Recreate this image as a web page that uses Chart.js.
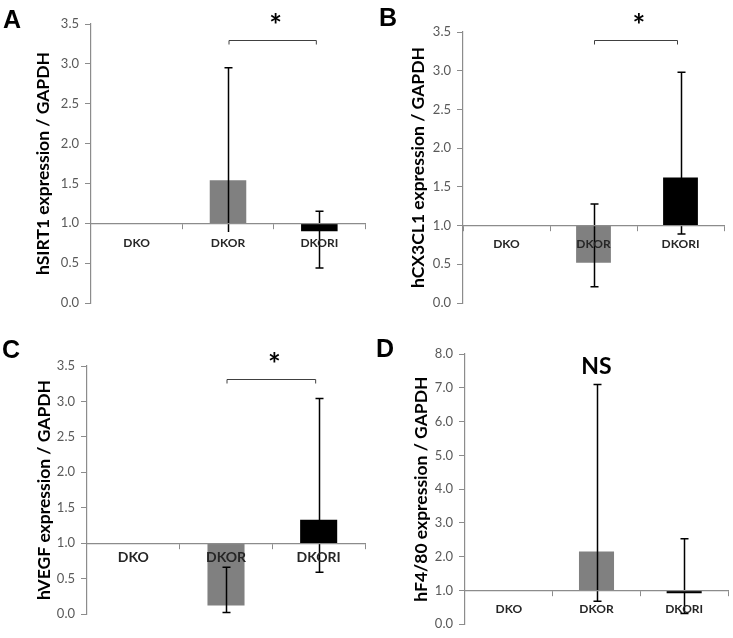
<!DOCTYPE html>
<html>
<head>
<meta charset="utf-8">
<script src="https://cdn.jsdelivr.net/npm/chart.js@4/dist/chart.umd.min.js"></script>
<style>
  html, body { margin: 0; padding: 0; background: #fff; }
  #wrap { position: relative; width: 733px; height: 638px; overflow: hidden; }
  canvas { position: absolute; }
</style>
</head>
<body>
<div id="wrap">
  <canvas id="cA" width="366" height="320" style="left:0;top:0"></canvas>
  <canvas id="cB" width="367" height="320" style="left:366px;top:0"></canvas>
  <canvas id="cC" width="366" height="318" style="left:0;top:320px"></canvas>
  <canvas id="cD" width="367" height="318" style="left:366px;top:320px"></canvas>
</div>
<script>
// ---- data ----
const categories = ['DKO', 'DKOR', 'DKORI'];
const baseline = 1.0;

const sirt1Mean    = [1.00, 1.54, 0.90];
const sirt1ErrHigh = [null, 2.95, 1.15];
const sirt1ErrLow  = [null, 0.89, 0.44];
const sirt1CapLow  = [false, false, true];

const cx3cl1Mean    = [1.00, 0.52, 1.62];
const cx3cl1ErrHigh = [null, 1.28, 2.98];
const cx3cl1ErrLow  = [null, 0.21, 0.89];
const cx3cl1CapLow  = [false, true, true];

const vegfMean    = [1.00, 0.12, 1.33];
const vegfErrHigh = [null, 0.66, 3.04];
const vegfErrLow  = [null, 0.02, 0.59];
const vegfCapLow  = [false, true, true];

const f480Mean    = [1.00, 2.15, 0.92];
const f480ErrHigh = [null, 7.10, 2.53];
const f480ErrLow  = [null, 0.68, 0.32];
const f480CapLow  = [false, true, true];

const barColors = ['#808080', '#808080', '#000000'];

const yTitles = ['hSIRT1 expression / GAPDH', 'hCX3CL1 expression / GAPDH',
                 'hVEGF expression / GAPDH', 'hF4/80 expression / GAPDH'];
const panelLetters = ['A', 'B', 'C', 'D'];
const yMax  = [3.5, 3.5, 3.5, 8.0];
const yStep = [0.5, 0.5, 0.5, 1.0];
const sigMarks   = ['*', '*', '*', 'NS'];
const bracketLevel = [3.30, 3.40, 3.32, null];
const nsLevel = 7.63;

// ---- layout (pixels, per panel) ----
const panels = [
  { id: 'cA', mean: sirt1Mean,  hi: sirt1ErrHigh,  lo: sirt1ErrLow,  capLo: sirt1CapLow,
    axisX: 91, pad: { top: 24, bottom: 17, right: 1 }, titlePad: 33, labelFont: 12, labelPad: 8,
    letter: [3, 28] },
  { id: 'cB', mean: cx3cl1Mean, hi: cx3cl1ErrHigh, lo: cx3cl1ErrLow, capLo: cx3cl1CapLow,
    axisX: 97, pad: { top: 32, bottom: 17, right: 9 }, titlePad: 42, labelFont: 12, labelPad: 6,
    letter: [13, 26] },
  { id: 'cC', mean: vegfMean,   hi: vegfErrHigh,   lo: vegfErrLow,   capLo: vegfCapLow,
    axisX: 87, pad: { top: 46, bottom: 24, right: 1 }, titlePad: 34, labelFont: 14, labelPad: 1,
    letter: [2, 38] },
  { id: 'cD', mean: f480Mean,   hi: f480ErrHigh,   lo: f480ErrLow,   capLo: f480CapLow,
    axisX: 99, pad: { top: 34, bottom: 9, right: 5 }, titlePad: 45, labelFont: 12, labelPad: 6,
    letter: [10, 37] }
];

const annotPlugin = {
  id: 'annot',
  afterDatasetsDraw(chart, args, opts) {
    const p = opts.panel;
    const ctx = chart.ctx;
    const x = chart.scales.x, y = chart.scales.y;
    ctx.save();
    ctx.strokeStyle = '#000';
    ctx.lineWidth = 1.5;
    for (let i = 0; i < categories.length; i++) {
      if (p.hi[i] == null) continue;
      const cx = Math.round(x.getPixelForValue(i)) + 0.5;
      const yh = y.getPixelForValue(p.hi[i]);
      const yl = y.getPixelForValue(p.lo[i]);
      ctx.beginPath();
      ctx.moveTo(cx, yh); ctx.lineTo(cx, yl);
      ctx.moveTo(cx - 4, yh); ctx.lineTo(cx + 4, yh);
      if (p.capLo[i]) { ctx.moveTo(cx - 4, yl); ctx.lineTo(cx + 4, yl); }
      ctx.stroke();
    }
    ctx.restore();
  },
  afterDraw(chart, args, opts) {
    const p = opts.panel, k = opts.k;
    const ctx = chart.ctx;
    const x = chart.scales.x, y = chart.scales.y;
    ctx.save();
    // panel letter
    ctx.fillStyle = '#000';
    ctx.font = 'bold 25px "Liberation Sans", Arial, sans-serif';
    ctx.textAlign = 'left';
    ctx.textBaseline = 'alphabetic';
    ctx.fillText(panelLetters[k], p.letter[0], p.letter[1]);
    if (bracketLevel[k] != null) {
      const x1 = x.getPixelForValue(1) + 1, x2 = x.getPixelForValue(2) - 3;
      const by = Math.round(y.getPixelForValue(bracketLevel[k])) + 0.5;
      ctx.strokeStyle = '#404040';
      ctx.lineWidth = 1;
      ctx.beginPath();
      ctx.moveTo(x1, by + 4); ctx.lineTo(x1, by); ctx.lineTo(x2, by); ctx.lineTo(x2, by + 4);
      ctx.stroke();
      ctx.font = 'bold 30px Lato, sans-serif';
      ctx.textAlign = 'center';
      ctx.textBaseline = 'middle';
      ctx.fillText(sigMarks[k], (x1 + x2) / 2 + 3, by - 14);
    } else {
      ctx.font = 'bold 23px Lato, sans-serif';
      ctx.textAlign = 'center';
      ctx.textBaseline = 'middle';
      ctx.fillText(sigMarks[k], x.getPixelForValue(1), y.getPixelForValue(nsLevel));
    }
    ctx.restore();
  }
};

panels.forEach((p, k) => {
  new Chart(document.getElementById(p.id), {
    type: 'bar',
    data: {
      labels: categories,
      datasets: [{
        data: p.mean.map(v => [baseline, v]),
        backgroundColor: barColors,
        borderWidth: 0,
        barPercentage: 0.4,
        categoryPercentage: 1.0,
        borderSkipped: false
      }]
    },
    options: {
      responsive: false,
      animation: false,
      devicePixelRatio: 1,
      layout: { padding: { left: 0, top: p.pad.top, bottom: p.pad.bottom, right: p.pad.right } },
      plugins: {
        legend: { display: false },
        tooltip: { enabled: false },
        annot: { panel: p, k: k }
      },
      scales: {
        x: {
          type: 'category',
          position: { y: baseline },
          offset: true,
          grid: { offset: true, drawOnChartArea: false, drawTicks: true, tickLength: 5, color: '#8c8c8c', z: 1 },
          border: { display: true, color: '#8c8c8c', width: 1.2, z: 1 },
          ticks: {
            z: 1,
            color: '#262626',
            padding: p.labelPad,
            maxRotation: 0,
            font: { family: 'Lato, sans-serif', size: p.labelFont, weight: 'bold' }
          }
        },
        y: {
          min: 0,
          max: yMax[k],
          afterFit: s => { s.width = p.axisX; },
          grid: { drawOnChartArea: false, drawTicks: true, tickLength: 6, color: '#8c8c8c' },
          border: { display: true, color: '#8c8c8c', width: 1.2 },
          ticks: {
            stepSize: yStep[k],
            color: '#595959',
            padding: 6,
            font: { family: 'Lato, sans-serif', size: 13 },
            callback: v => Number(v).toFixed(1)
          },
          title: {
            display: true,
            text: yTitles[k],
            color: '#000',
            padding: { top: p.titlePad, bottom: 0 },
            font: { family: 'Lato, sans-serif', size: 17.5, weight: 'bold' }
          }
        }
      }
    },
    plugins: [annotPlugin]
  });
});
</script>
</body>
</html>
